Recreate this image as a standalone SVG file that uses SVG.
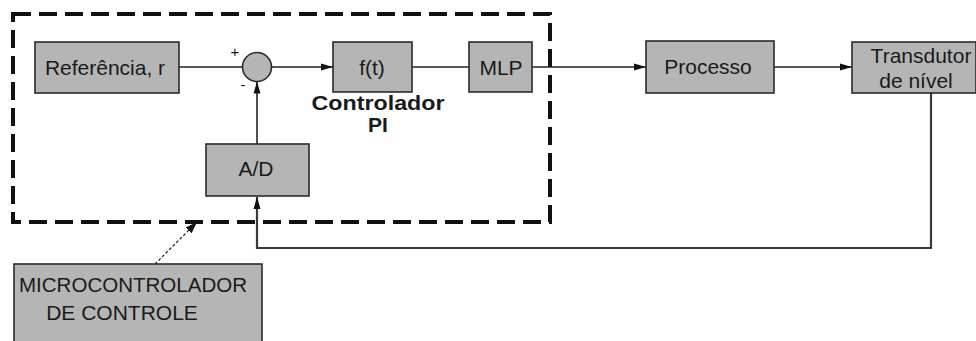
<svg xmlns="http://www.w3.org/2000/svg" width="976" height="341" viewBox="0 0 976 341">
<defs>
<style>
.box{fill:#b5b5b5;stroke:#2a2a2a;stroke-width:1.6}
.t{font-family:"Liberation Sans",Arial,sans-serif;font-size:21px;fill:#1a1a1a;text-anchor:middle}
.b{font-weight:bold}
.ln{fill:none;stroke:#222;stroke-width:1.6}
.fb{fill:none;stroke:#3a3a3a;stroke-width:2.2}
</style>
<marker id="ah" viewBox="0 0 12 10" refX="12" refY="5" markerWidth="12" markerHeight="10" markerUnits="userSpaceOnUse" orient="auto">
<path d="M0,1.5 L12,5 L0,8.5 Z" fill="#111"/>
</marker>
<marker id="ah2" viewBox="0 0 10 10" refX="10" refY="5" markerWidth="12" markerHeight="12" markerUnits="userSpaceOnUse" orient="auto">
<path d="M0,1.5 L10,5 L0,8.5 Z" fill="#111"/>
</marker>
</defs>
<rect width="976" height="341" fill="#fff"/>
<g id="microcontroller-boundary">
<rect x="13" y="14" width="537" height="208" fill="none" stroke="#111" stroke-width="4" stroke-dasharray="18,8"/>
</g>
<g id="connectors">
<line class="ln" x1="179" y1="67" x2="242.5" y2="67"/>
<line class="ln" x1="271.5" y1="67" x2="333" y2="67" marker-end="url(#ah)"/>
<line class="ln" x1="412" y1="67" x2="469" y2="67"/>
<line class="ln" x1="532" y1="67" x2="646" y2="67" marker-end="url(#ah)"/>
<line class="ln" x1="774" y1="67" x2="852" y2="67" marker-end="url(#ah)"/>
<line class="ln" x1="257" y1="144" x2="257" y2="81.5" marker-end="url(#ah)"/>
<polyline class="fb" points="931,93 931,248 257,248 257,197" marker-end="url(#ah)"/>
<line x1="155" y1="264" x2="197" y2="222" stroke="#222" stroke-width="1.2" stroke-dasharray="3,2" marker-end="url(#ah2)"/>
</g>
<g id="referencia">
<rect class="box" x="35" y="42" width="144" height="51"/>
<text class="t" x="105" y="75">Referência, r</text>
</g>
<g id="somador">
<circle cx="257" cy="67" r="14.5" fill="#b5b5b5" stroke="#2a2a2a" stroke-width="1.6"/>
<text class="t" x="235" y="57" style="font-size:15px">+</text>
<text class="t" x="243" y="90" style="font-size:15px">-</text>
</g>
<g id="controlador">
<rect class="box" x="333" y="42" width="79" height="50"/>
<text class="t" x="372" y="75">f(t)</text>
<text class="t b" x="378" y="110" textLength="133" lengthAdjust="spacingAndGlyphs">Controlador</text>
<text class="t b" x="378" y="132">PI</text>
</g>
<g id="mlp">
<rect class="box" x="469" y="42" width="63" height="50"/>
<text class="t" x="501" y="75">MLP</text>
</g>
<g id="processo">
<rect class="box" x="646" y="41" width="128" height="52"/>
<text class="t" x="708" y="74">Processo</text>
</g>
<g id="transdutor">
<rect class="box" x="852" y="42" width="124" height="51"/>
<text class="t" x="921" y="63">Transdutor</text>
<text class="t" x="916" y="88">de nível</text>
</g>
<g id="ad">
<rect class="box" x="206" y="144" width="103" height="52"/>
<text class="t" x="256" y="176">A/D</text>
</g>
<g id="microcontrolador">
<rect class="box" x="14" y="264" width="248" height="90"/>
<text class="t" x="133" y="292" textLength="228" lengthAdjust="spacingAndGlyphs">MICROCONTROLADOR</text>
<text class="t" x="122" y="320">DE CONTROLE</text>
</g>
</svg>
